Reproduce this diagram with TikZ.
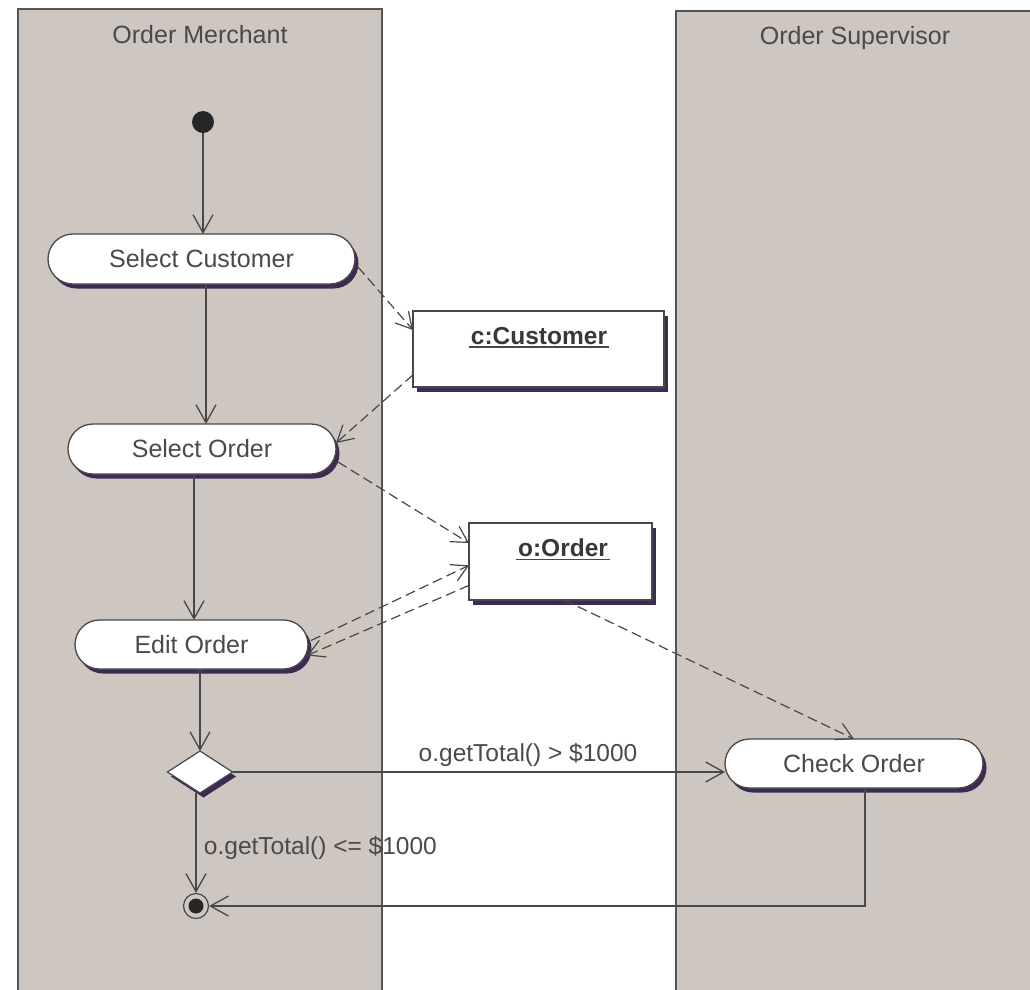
\documentclass[tikz,border=0pt]{standalone}
\usepackage{fontspec}
\setmainfont{Liberation Sans}
\usetikzlibrary{shapes.misc,shapes.geometric,arrows.meta,shadows,calc}
\definecolor{lanefill}{HTML}{CEC6C0}
\definecolor{laneline}{HTML}{555555}
\definecolor{shadowc}{HTML}{3E2A55}
\definecolor{linec}{HTML}{484848}
\definecolor{textc}{HTML}{4A4A4A}
\begin{document}
\begin{tikzpicture}[x=1pt,y=-1pt,
  every node/.style={font=\fontsize{25}{30}\selectfont, text=textc},
  lane/.style={fill=lanefill, draw=laneline, line width=1.6pt},
  shadowed/.style={drop shadow={shadow xshift=3.5pt, shadow yshift=-4.5pt, fill=shadowc, opacity=1}},
  act/.style={rounded rectangle, draw=linec, line width=1.3pt, fill=white, inner sep=0pt, outer sep=0pt, shadowed},
  obj/.style={rectangle, draw=linec, line width=1.6pt, fill=white, inner sep=0pt, outer sep=0pt, shadowed},
  objtext/.style={font=\bfseries\fontsize{24.5}{28}\selectfont, inner sep=2pt, text=black!78},
  decision/.style={diamond, draw=linec, line width=1.2pt, fill=white, inner sep=0pt, outer sep=0pt, minimum width=65, minimum height=42, shadowed},
  startnode/.style={circle, fill=black!85, inner sep=0pt, minimum size=22},
  endnode/.style={circle, draw=linec, line width=1.2pt, fill=lanefill, inner sep=0pt, minimum size=25,
     path picture={\fill[black!85] (path picture bounding box.center) circle (7.5pt);}},
  flow/.style={draw=linec, line width=1.3pt, -{Straight Barb[length=18pt,width=20pt]}},
  oflow/.style={draw=linec, line width=1.2pt, dash pattern=on 10pt off 5pt, -{Straight Barb[length=16pt,width=18pt]}},
  guard/.style={font=\fontsize{24.5}{28}\selectfont}
]
\useasboundingbox (0,0) rectangle (1030,989);
\clip (0,0) rectangle (1030,989);
\fill[white] (0,0) rectangle (1030,989);

% swimlanes
\draw[lane] (18,9) rectangle (382,1000);
\draw[lane] (676,11) rectangle (1040,1000);
\node (t1) at (200,35) {Order Merchant};
\node (t2) at (855,38) {Order Supervisor};

% nodes
\node[startnode] (init) at (203,122) {};
\node[act, minimum width=307, minimum height=50] (sc) at (201.5,259) {Select Customer};
\node[act, minimum width=268, minimum height=50] (so) at (202,449) {Select Order};
\node[act, minimum width=233, minimum height=49] (eo) at (191.5,644.5) {Edit Order};
\node[act, minimum width=258, minimum height=49] (co) at (854,763.5) {Check Order};

\node[obj, minimum width=251, minimum height=76] (cust) at (538.5,349) {};
\node[objtext] (custt) at (539,336) {c:Customer\ };
\draw[linec, line width=1.4pt] (custt.south west) -- (custt.south east);
\node[obj, minimum width=183, minimum height=77] (ord) at (560.5,561.5) {};
\node[objtext] (ordt) at (563,548) {o:Order\ };
\draw[linec, line width=1.4pt] (ordt.south west) -- (ordt.south east);

\node[decision] (dec) at (200,772) {};
\node[endnode] (fin) at (196,906) {};

% control flow
\draw[flow] (init) -- (init |- sc.north);
\draw[flow] ([xshift=4.5pt]sc.south) -- ([xshift=4.5pt]sc.south |- so.north);
\draw[flow] ([xshift=-8pt]so.south) -- ([xshift=-8pt]so.south |- eo.north);
\draw[flow] (dec.north |- eo.south) -- (dec.north);
\draw[flow] (dec.east) -- (dec.east -| co.west)
  node[guard, pos=0.6, above=1pt] (g1) {o.getTotal() > \$1000};
\draw[flow] (fin.north |- dec.south) -- (fin.north)
  node[guard, pos=0.55, anchor=west, xshift=4pt] (g2) {o.getTotal() <= \$1000};
\draw[flow] ([xshift=11pt]co.south) |- (fin.east);

% object flow
\draw[oflow] ([xshift=3pt,yshift=-8pt]sc.east) -- ($(cust.north west)!0.25!(cust.south west)$);
\draw[oflow] ($(cust.north west)!0.84!(cust.south west)$) -- ([yshift=6pt]so.east);
\draw[oflow] ([xshift=2pt,yshift=-13pt]so.east) -- ($(ord.north west)!0.26!(ord.south west)$);
\draw[oflow] ([xshift=3pt,yshift=4pt]eo.east) -- ($(ord.north west)!0.55!(ord.south west)$);
\draw[oflow] ($(ord.north west)!0.81!(ord.south west)$) -- ([xshift=-1pt,yshift=-11pt]eo.east);
\draw[oflow] ($(ord.south west)!0.52!(ord.south east)$) -- (co.north);
\end{tikzpicture}
\end{document}
